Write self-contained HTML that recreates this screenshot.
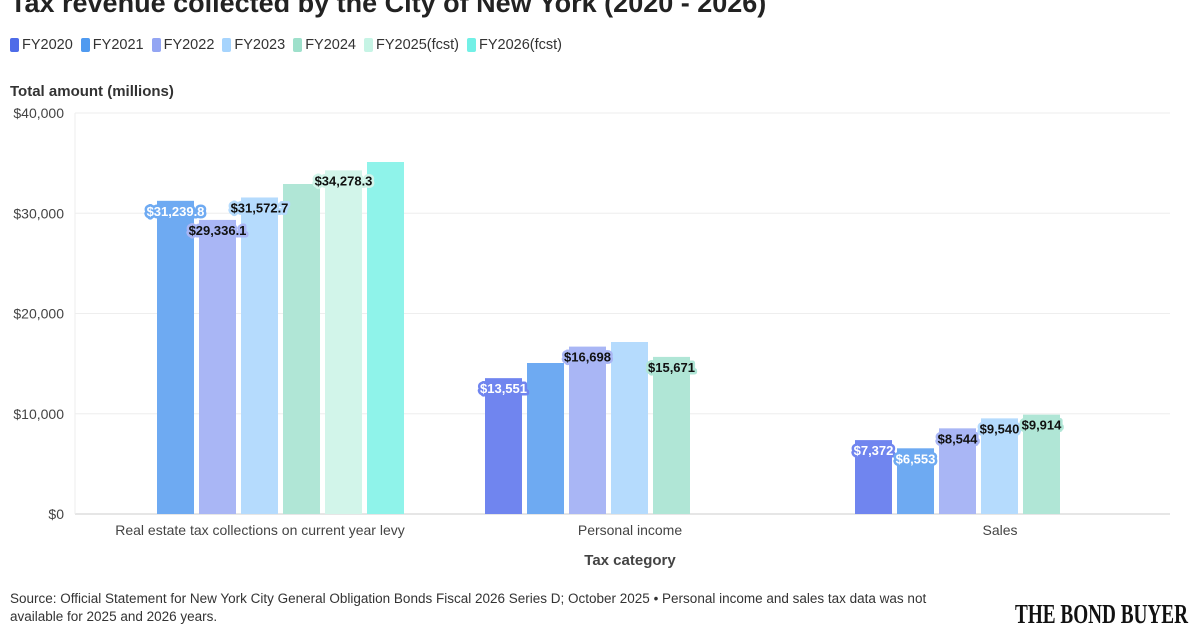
<!DOCTYPE html>
<html><head><meta charset="utf-8"><style>
body{margin:0;width:1200px;height:630px;background:#fff;font-family:"Liberation Sans",sans-serif;overflow:hidden;position:relative;color:#333}
.title{position:absolute;left:10px;top:-12px;font-size:27px;font-weight:bold;color:#222;white-space:nowrap}
.legend{position:absolute;left:10px;top:37px;font-size:14.5px;color:#333;display:flex;gap:8px}
.legend span{display:flex;align-items:center}
.legend i{display:inline-block;width:9px;height:14px;border-radius:2px;margin-right:3px}
.foot{position:absolute;left:10px;top:590px;font-size:13.5px;color:#333;line-height:18px;width:955px}
</style></head><body>
<div class="title">Tax revenue collected by the City of New York (2020 - 2026)</div>
<div class="legend" id="legend"></div>
<svg id="chart" width="1200" height="630" style="position:absolute;left:0;top:0"></svg>
<div class="foot">Source: Official Statement for New York City General Obligation Bonds Fiscal 2026 Series D; October 2025 • Personal income and sales tax data was not available for 2025 and 2026 years.</div>
<svg width="1200" height="630" style="position:absolute;left:0;top:0"><text x="1015" y="623" textLength="173" lengthAdjust="spacingAndGlyphs" font-family="Liberation Serif, serif" font-weight="bold" font-size="27" fill="#111">THE BOND BUYER</text></svg>
<script>
const categories=["Real estate tax collections on current year levy","Personal income","Sales"];
const seriesNames=["FY2020","FY2021","FY2022","FY2023","FY2024","FY2025(fcst)","FY2026(fcst)"];
const realEstate=[null,31239.8,29336.1,31572.7,32918,34278.3,35112];
const personalIncome=[13551,15062,16698,17157,15671,null,null];
const sales=[7372,6553,8544,9540,9914,null,null];
const yTicks=[0,10000,20000,30000,40000];
const labeled=[[false,true,true,true,false,true,false],[true,false,true,false,true,false,false],[true,true,true,true,true,false,false]];
const data=[realEstate,personalIncome,sales];
const barColors=["#7085ef","#6eaaf2","#a9b6f5","#b5dbfd","#b0e6d6","#d2f5ea","#8ff3ea"];
const legColors=["#4e6ce8","#4f9af0","#93a5f3","#a6d4fd","#9ee0cb","#c6f4e5","#72f0e6"];
const darkText=[false,false,true,true,true,true,true];
const NS="http://www.w3.org/2000/svg";
const svg=document.getElementById('chart');
const x0=75,x1=1170,yTop=113,yBot=514,yMax=40000;
const y=v=>yBot-(v/yMax)*(yBot-yTop);
const band=370,slot=42,bw=37;
const bx=(c,s)=>x0+c*band+40+s*slot;
function el(t,a,txt){const e=document.createElementNS(NS,t);for(const k in a)e.setAttribute(k,a[k]);if(txt!=null)e.textContent=txt;svg.appendChild(e);return e;}
const lg=document.getElementById('legend');
seriesNames.forEach((n,i)=>{const s=document.createElement('span');


s.innerHTML='<i style="background:'+legColors[i]+'"></i>'+n;lg.appendChild(s);});
let t=el('text',{x:10,y:96,'font-size':15,'font-weight':'bold',fill:'#333'},'Total amount (millions)');


yTicks.forEach(v=>{
const g=el('line',{x1:x0,x2:x1,y1:y(v),y2:y(v),stroke:v===0?'#ccc':'#eee'});


const l=el('text',{x:64,y:y(v)+5,'text-anchor':'end','font-size':14,fill:'#444'},'$'+v.toLocaleString('en-US'));


});
el('line',{x1:x0,x2:x0,y1:yTop,y2:yBot,stroke:'#eee'});
categories.forEach((c,ci)=>{
const l=el('text',{x:x0+ci*band+185,y:535,'text-anchor':'middle','font-size':14,fill:'#444'},c);


data[ci].forEach((v,si)=>{if(v==null)return;
const r=el('rect',{x:bx(ci,si),y:y(v),width:bw,height:yBot-y(v),fill:barColors[si]});


});});
categories.forEach((c,ci)=>{data[ci].forEach((v,si)=>{if(v==null||!labeled[ci][si])return;
const txt='$'+(ci===0?v.toLocaleString('en-US',{minimumFractionDigits:1,maximumFractionDigits:1}):v.toLocaleString('en-US'));
const a={x:bx(ci,si)+bw/2,y:y(v)+15,'text-anchor':'middle','font-size':13,'font-weight':'bold'};
el('text',Object.assign({},a,{fill:'none',stroke:barColors[si],'stroke-width':5,'stroke-linejoin':'round'}),txt);
const l=el('text',Object.assign({},a,{fill:darkText[si]?'#111':'#fff'}),txt);


});});
t=el('text',{x:630,y:565,'text-anchor':'middle','font-size':15,'font-weight':'bold',fill:'#444'},'Tax category');


</script>
</body></html>
